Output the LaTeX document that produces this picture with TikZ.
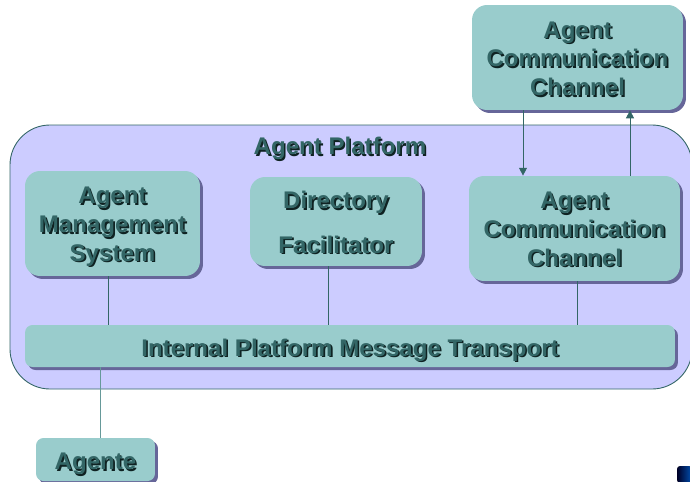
\documentclass[tikz,border=0pt]{standalone}
\usepackage{fontspec}
\setmainfont{Liberation Sans}
\usepackage{tikz}
\usetikzlibrary{arrows.meta, shadows}
\usetikzlibrary{calc}

\definecolor{boxfill}{HTML}{99CCCC}
\definecolor{platfill}{HTML}{CCCCFF}
\definecolor{boxshadow}{HTML}{666699}
\definecolor{txt}{HTML}{336666}
\definecolor{txtshadow}{HTML}{0F2222}
\definecolor{wire}{HTML}{336666}
\definecolor{wirelight}{HTML}{669999}

% one line of text with a small offset shadow behind it, set a little low
\newlength\textdrop
\setlength\textdrop{0.04cm}
\newcommand\shline[1]{\leavevmode\raisebox{-\textdrop}[\height][\depth]{\rlap{\kern0.9pt\raisebox{-0.9pt}{\color{txtshadow}#1}}#1}}

\tikzset{
  box/.style={rectangle, rounded corners=0.3cm, fill=boxfill, draw=none,
    general shadow={fill=boxshadow, shadow xshift=0.06cm, shadow yshift=-0.06cm},
    align=center, text=txt, font=\bfseries\fontsize{13.7}{16.4}\selectfont},
  textdrop/.style={execute at begin node={\setlength\textdrop{#1}}},
  link/.style={draw=wire, line width=0.5pt},
  arr/.style={link, -{Triangle[width=4.5pt,length=4.5pt]}}
}

\begin{document}
\begin{tikzpicture}[x=0.02cm, y=-0.02cm]
    \useasboundingbox (0,0) rectangle (690,481);

    % the platform
    \draw[wire, fill=platfill, line width=0.5pt, rounded corners=0.8cm] (10,125) rectangle (692,389);
    \node[text=txt, font=\bfseries\fontsize{13.7}{16.4}\selectfont, textdrop=0.07cm] (platname) at (340,146) {\shline{Agent Platform}};

    % boxes
    \node[box, minimum width=4.22cm, minimum height=2.1cm] (accext) at (577.5,57.5)
        {\shline{Agent}\\\shline{Communication}\\\shline{Channel}};
    \node[box, minimum width=3.5cm, minimum height=2.1cm, textdrop=0.08cm] (ams) at (112.5,223.5)
        {\shline{Agent}\\\shline{Management}\\\shline{System}};
    \node[box, minimum width=3.44cm, minimum height=1.78cm, textdrop=0.03cm] (df) at (336,221.5)
        {\shline{Directory}\\[9pt]\shline{Facilitator}};
    \node[box, minimum width=4.22cm, minimum height=2.1cm, textdrop=0.03cm] (accin) at (574.5,228.5)
        {\shline{Agent}\\\shline{Communication}\\\shline{Channel}};
    \node[box, rounded corners=0.15cm, minimum width=13cm, minimum height=0.84cm, textdrop=0.1cm] (ipmt) at (350,346)
        {\shline{Internal Platform Message Transport}};
    \node[box, rounded corners=0.15cm, minimum width=2.38cm, minimum height=0.86cm, textdrop=0.1cm] (agente) at (95.5,459.5)
        {\shline{Agente}};

    % connections
    \coordinate (down) at (523,0);
    \coordinate (up) at (630,0);
    \draw[arr] (accext.south -| down) -- (accin.north -| down);
    \draw[arr] (accin.north -| up) -- (accext.south -| up);

    \draw[link] ([xshift=-0.09cm]ams.south) -- ([xshift=-0.09cm]ams.south |- ipmt.north);
    \draw[link] ([xshift=-0.16cm]df.south) -- ([xshift=-0.16cm]df.south |- ipmt.north);
    \draw[link] ([xshift=0.05cm]accin.south) -- ([xshift=0.05cm]accin.south |- ipmt.north);
    \draw[link, draw=wirelight] ([xshift=0.09cm]agente.north) -- ([xshift=0.09cm]agente.north |- ipmt.south);

    % corner logo piece
    \fill[left color=black!85!blue, right color=blue!55!cyan!70!black, rounded corners=2pt] (677,466) rectangle (692,483);
\end{tikzpicture}
\end{document}
